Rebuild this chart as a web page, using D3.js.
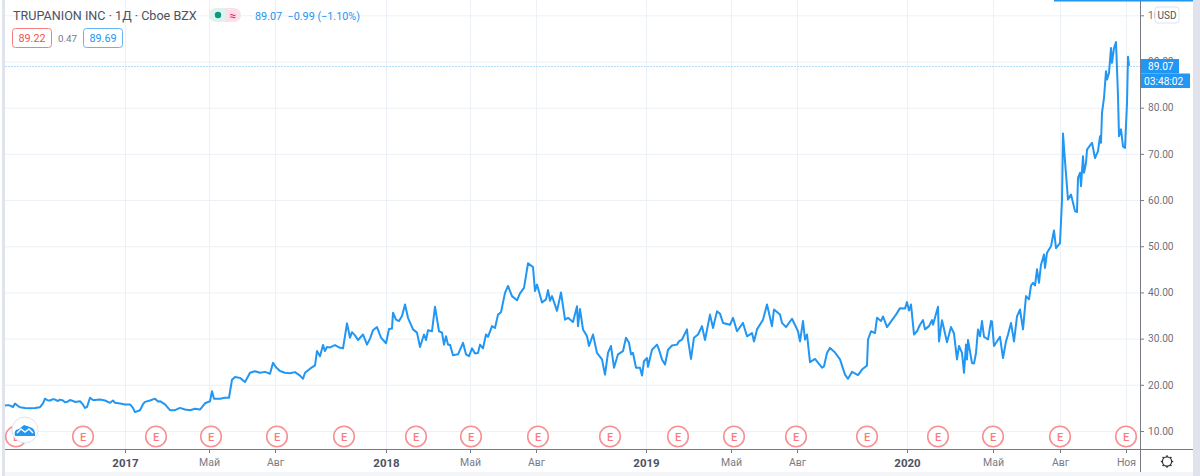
<!DOCTYPE html>
<html><head><meta charset="utf-8">
<script src="https://cdn.jsdelivr.net/npm/d3@7"></script>
<style>
html,body{margin:0;padding:0;background:#fff;overflow:hidden}
svg{display:block}
text{font-family:Roboto,sans-serif}
</style></head><body><svg id="c" width="1200" height="476"></svg>
<script>
const chartTitle = "TRUPANION INC · 1Д · Cboe BZX";
const quoteLine = "89.07  −0.99 (−1.10%)";
const bidLabel = "89.22", spreadLabel = "0.47", askLabel = "89.69";
const lastPrice = 89.07, countdown = "03:48:02";
const priceTicks = [10,20,30,40,50,60,70,80,90,100];
const timeTickBars = [125,209,275,386,470,536,646,731,797,907,993,1060,1126];
const timeTickLabels = ["2017","Май","Авг","2018","Май","Авг","2019","Май","Авг","2020","Май","Авг","Ноя"];
const earningsBars = [16,83,156,211,277,344,416,471,538,610,678,734,796,867,938,993,1060,1126];
const bars = [5,8,10,13,15,18,20,25,30,35,40,43,45,48,50,53,55,58,60,63,65,68,70,73,75,80,83,85,87,90,93,95,100,105,110,113,115,120,125,130,133,135,140,143,145,150,155,158,160,165,170,175,180,185,190,195,200,205,210,212,214,220,225,229,232,235,240,245,248,250,255,260,265,270,273,276,280,
285,290,295,300,303,305,310,315,317,320,323,325,327,330,335,340,343,347,350,352,355,358,363,367,370,373,377,381,386,389,392,393,396,399,402,405,408,413,417,420,424,426,428,432,435,439,442,444,446,448,450,453,458,463,466,469,472,475,478,480,483,486,488,492,495,498,501,505,508,512,517,520,524,528,533,535,537,542,546,548,550,552,557,
561,565,568,573,577,578,580,583,587,589,593,597,602,605,608,611,614,618,623,626,629,631,633,636,640,642,644,647,648,652,657,659,662,665,668,672,677,679,682,687,688,691,694,698,702,705,710,713,717,720,723,730,733,737,743,747,752,754,757,763,767,772,774,780,782,786,792,798,800,803,805,807,810,815,822,824,827,830,835,840,845,848,
852,858,862,867,868,871,875,877,881,883,887,892,896,900,905,907,909,911,914,917,920,923,925,929,932,933,938,939,942,947,951,954,957,959,962,964,966,967,968,972,974,976,978,980,982,984,988,991,992,994,1000,1003,1006,1008,1011,1014,1017,1020,1023,1026,1029,1031,1033,1035,1037,1039,1041,1044,1045,1047,1051,1054,1056,1060,1062,1063,1065,1068,1071,1073,1075,1077,1078,1080,1081,1083,1084,1086,1087,1092,1095,1098,1100,1101,1102,1104,1106,1107,1109,1111,1112,1114,1116,1118,1119,1121,1123,1125,1127,1128,1129];
const closes = [15.5,15.6,15.5,15.2,15.95,15.4,15.15,15.0,14.9,15.0,15.15,16.0,17.0,16.6,16.6,16.9,16.8,16.5,16.8,16.6,16.2,16.4,16.7,16.5,16.3,16.45,15.7,15.0,15.2,17.2,16.7,16.7,16.8,16.6,16.1,16.6,16.1,15.95,15.75,15.75,15.0,14.1,14.5,15.8,16.3,16.6,17.0,16.4,16.45,15.75,14.5,14.5,15.0,14.65,14.5,14.8,14.65,16.0,16.45,18.6,17.0,17.0,17.2,17.2,21.1,21.7,21.5,20.6,21.8,22.6,22.95,22.6,22.8,22.4,24.75,23.8,23.0,
22.6,22.5,22.75,22.0,21.3,22.6,23.5,24.2,27.3,26.2,28.6,27.3,28.2,28.1,28.6,28.0,27.9,33.3,30.2,31.4,30.7,29.7,30.9,28.7,30,31.8,32.5,30.2,29,32.1,32.2,35.6,34.1,33.8,34.9,37.4,34.5,32,31.3,28.2,30.9,29.7,31.8,31.6,36.9,31.6,31.3,28.7,30.5,28.7,28.7,26.4,26.6,29.1,26.6,26.2,27.9,26.8,26.9,28.7,27.9,30.9,30.4,32.7,32.3,35.2,35.7,39.9,41.4,39.2,38.3,39.8,41,46.3,45.5,40.3,41.7,37.8,38.5,40.5,38.2,39.2,36,
40.0,34.1,34.5,33.6,37,32.7,36.4,32,30.5,28.4,30.9,26.9,25.5,22.2,26.9,28.4,23.7,26.6,27.3,30.2,29.1,26.6,26.9,23.7,23.7,22,25.1,25.8,23.9,27.6,28.7,27.6,25.5,24.4,27.6,28.5,28.7,29.4,29.8,32,29.8,25.6,30.2,30.9,32.7,29.7,35.2,32.3,35.9,35.4,33.4,33,34.5,31.6,33.4,30.5,31.2,29.4,32,34.1,37.4,32.7,36.3,35.2,33.4,32.5,34.3,31.6,29.4,33.8,29.8,30.9,24.9,25.6,23.7,24,26.9,28,27,25.5,22.2,21.3,
22.8,22.1,23.3,24.2,29.8,31.6,31.2,34.5,33.8,34.8,32.5,34,35.2,36.6,36.5,37.9,36.1,37.4,30.9,31.6,33,34,32,32.7,34,33,36.9,29.4,34,29.2,32.5,31.1,25.5,28.4,26.9,22.6,28.7,25.5,29.7,24.7,24.6,26.9,32,30.5,33.8,30.4,29.8,33.8,33.7,28.4,30.4,25.8,29.4,30.9,33.4,29.4,34.8,36.3,32,39.2,38.5,41.5,42.1,41.5,45,42.1,46,48.2,45.3,48.6,50,53.4,49.6,50.7,60,74.4,68.4,60.1,61.2,59.4,57.6,57.4,64.8,65.9,63,69.5,65.9,68,70.9,72.4,69.1,70.6,73.8,72.4,78.9,82.1,87.9,86.1,87.5,92.9,89.7,92.9,94.2,82.5,73.8,75.3,71.6,71.3,81,91,89.07];

const BLUE="#2196f3", GRID="#ebf1f7", AXIS="#787b86", TXT="#4c525e", EDGE="#e0e3eb", RED="#f77c80";
const svg=d3.select("#c");
const W=1200,H=476,left=5,axisX=1140,axisY=449,rightEdge=1193,bottom=472;
const x=d3.scaleLinear().domain([0,1140]).range([0,1140]);
const y=d3.scaleLinear().domain([10,100]).range([431,15.3]);

// grid
const grid=svg.append("g");
grid.selectAll("line.h").data(priceTicks).join("line").attr("x1",left).attr("x2",axisX)
  .attr("y1",d=>y(d)+.5).attr("y2",d=>y(d)+.5).attr("stroke",GRID);
grid.selectAll("line.v").data(timeTickBars).join("line").attr("y1",0).attr("y2",axisY)
  .attr("x1",d=>x(d)+.5).attr("x2",d=>x(d)+.5).attr("stroke",GRID);

// last price line
svg.append("line").attr("x1",left).attr("x2",axisX).attr("y1",Math.round(y(lastPrice))+.5).attr("y2",Math.round(y(lastPrice))+.5)
  .attr("stroke","#b3dcfb").attr("stroke-dasharray","2 1").attr("shape-rendering","crispEdges");

// series
svg.append("path").datum(bars.map((b,i)=>[b,closes[i]]))
  .attr("fill","none").attr("stroke",BLUE).attr("stroke-width",2).attr("stroke-linejoin","round")
  .attr("d",d3.line().x(d=>x(d[0])).y(d=>y(d[1])));

// axes
const py=svg.append("g").attr("transform",`translate(${axisX},0)`)
  .call(d3.axisRight(y).tickValues(priceTicks).tickFormat(d3.format(".2f")).tickSize(4).tickPadding(4));
py.select(".domain").remove();
py.selectAll("line").attr("stroke",AXIS);
py.selectAll("text").attr("fill",TXT).attr("fill-opacity",.85).style("font-family","Roboto,sans-serif").style("font-size","10.2px");

const px=svg.append("g").attr("transform",`translate(0,${axisY})`)
  .call(d3.axisBottom(x).tickValues(timeTickBars).tickFormat((d,i)=>timeTickLabels[i]).tickSize(4).tickPadding(6));
px.select(".domain").remove();
px.selectAll("line").attr("stroke",AXIS);
px.selectAll("text").attr("fill",(d,i)=>/^\d/.test(timeTickLabels[i])?TXT:AXIS)
  .style("font-family","Roboto,sans-serif")
  .style("font-size",(d,i)=>/^\d/.test(timeTickLabels[i])?"11.5px":"10.5px")
  .style("font-weight",(d,i)=>/^\d/.test(timeTickLabels[i])?"700":"400");

svg.append("line").attr("x1",left).attr("x2",rightEdge).attr("y1",axisY+.5).attr("y2",axisY+.5).attr("stroke",AXIS);
svg.append("line").attr("x1",axisX+.5).attr("x2",axisX+.5).attr("y1",0).attr("y2",bottom).attr("stroke",AXIS);

// earnings marks
const em=svg.append("g").selectAll("g").data(earningsBars).join("g").attr("transform",d=>`translate(${x(d)},436.5)`);
em.append("circle").attr("r",10.3).attr("fill","#fff").attr("stroke",RED).attr("stroke-opacity",.85).attr("stroke-width",1.6);
em.append("text").attr("text-anchor","middle").attr("y",4).attr("fill",RED).style("font-size","11px").style("font-weight","500").text("E");

// logo
svg.append("circle").attr("cx",25).attr("cy",430).attr("r",13).attr("fill","#fff").attr("stroke",EDGE);
svg.append("path").attr("d","M15 436 Q13 430 19 429 L24 425 L30 427 Q36 429 35 436 Z").attr("fill",BLUE);
svg.append("path").attr("d","M17 433 L21 429 L25 432 L29 429 L33 433").attr("fill","none").attr("stroke","#fff").attr("stroke-width",1.4);

// frame strips
svg.append("rect").attr("x",2).attr("y",0).attr("width",3).attr("height",H).attr("fill",EDGE);
svg.append("rect").attr("x",rightEdge).attr("y",0).attr("width",W-rightEdge).attr("height",H).attr("fill",EDGE);
svg.append("rect").attr("x",left).attr("y",bottom).attr("width",rightEdge-left).attr("height",H-bottom).attr("fill","#f4f5f9");
svg.append("rect").attr("x",1054).attr("y",0).attr("width",rightEdge-1054).attr("height",1.5).attr("fill",BLUE);

// price labels
svg.append("rect").attr("x",1155).attr("y",7).attr("width",24).attr("height",16).attr("rx",3).attr("fill","#fff").attr("stroke",EDGE);
svg.append("text").attr("x",1167).attr("y",18.5).attr("text-anchor","middle").attr("fill",TXT).style("font-size","10px").text("USD");
svg.append("rect").attr("x",1141).attr("y",59).attr("width",38).attr("height",14.5).attr("fill",BLUE);
svg.append("text").attr("x",1148).attr("y",70).attr("fill","#fff").style("font-size","10.2px").text(d3.format(".2f")(lastPrice));
svg.append("rect").attr("x",1141).attr("y",73.5).attr("width",49).attr("height",14.5).attr("fill",BLUE);
svg.append("text").attr("x",1144).attr("y",84.5).attr("fill","#fff").style("font-size","10.2px").text(countdown);

// header
svg.append("text").attr("x",13).attr("y",20).attr("fill",TXT).style("font-size","12.6px").text(chartTitle);
svg.append("path").attr("d","M225 8 H216 a7 7 0 0 0 0 14 H225 Z").attr("fill","#dff3ee");
svg.append("path").attr("d","M225 8 H234 a7 7 0 0 1 0 14 H225 Z").attr("fill","#fcdfe8");
svg.append("circle").attr("cx",218).attr("cy",15).attr("r",3.2).attr("fill","#089981");
svg.append("text").attr("x",233).attr("y",19.5).attr("text-anchor","middle").attr("fill","#e91e63").style("font-size","12px").text("≈");
svg.append("text").attr("x",255).attr("y",20).attr("fill",BLUE).style("font-size","10.8px").style("white-space","pre").text(quoteLine);
svg.append("rect").attr("x",12.5).attr("y",28.5).attr("width",39).attr("height",19).attr("rx",3).attr("fill","#fff").attr("stroke",RED);
svg.append("text").attr("x",32).attr("y",42).attr("text-anchor","middle").attr("fill","#ef5350").style("font-size","10.8px").text(bidLabel);
svg.append("text").attr("x",58).attr("y",41.5).attr("fill",AXIS).style("font-size","9.8px").text(spreadLabel);
svg.append("rect").attr("x",83.5).attr("y",28.5).attr("width",39).attr("height",19).attr("rx",3).attr("fill","#fff").attr("stroke","#64b5f6");
svg.append("text").attr("x",103).attr("y",42).attr("text-anchor","middle").attr("fill",BLUE).style("font-size","10.8px").text(askLabel);

// settings gear
const gear=svg.append("g").attr("transform","translate(1167,461.5)");
gear.append("circle").attr("r",4.6).attr("fill","none").attr("stroke","#333").attr("stroke-width",1.2);
gear.selectAll("line").data(d3.range(8)).join("line").attr("x1",0).attr("x2",0).attr("y1",-4.6).attr("y2",-6.2)
  .attr("stroke","#333").attr("stroke-width",1.4).attr("transform",d=>`rotate(${d*45})`);
</script></body></html>
